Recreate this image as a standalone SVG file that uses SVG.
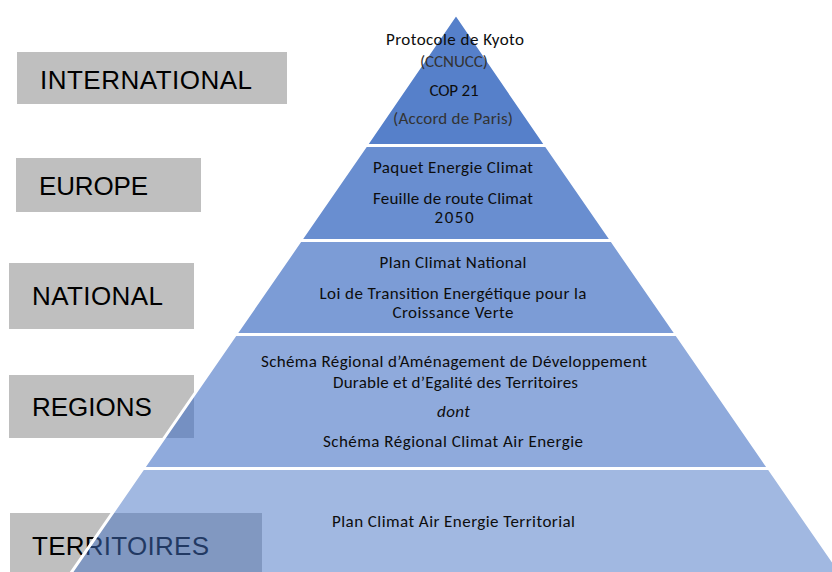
<svg xmlns="http://www.w3.org/2000/svg" width="832" height="572" viewBox="0 0 832 572">
<style>
.box{fill:#bfbfbf}
.lbl{font-family:"Liberation Sans",Arial,sans-serif;font-size:26px;fill:#000}
.lay{fill:#4472c4;stroke:#fff;stroke-width:3;stroke-linejoin:round}
.t{font-family:Carlito,Lato,"Open Sans",sans-serif;font-size:17px;fill:#0d0d0d;text-anchor:middle}
.lt{font-weight:300;fill:#333}
.it{font-style:italic}
</style>
<rect width="832" height="572" fill="#fff"/>
<g id="label-international"><rect class="box" x="17" y="52" width="270" height="52"/><text class="lbl" x="40" y="89" textLength="212">INTERNATIONAL</text></g>
<g id="label-europe"><rect class="box" x="16" y="158" width="185" height="54"/><text class="lbl" x="39" y="195" textLength="109">EUROPE</text></g>
<g id="label-national"><rect class="box" x="9" y="263" width="185" height="66"/><text class="lbl" x="32" y="305" textLength="131">NATIONAL</text></g>
<g id="label-regions"><rect class="box" x="9" y="375" width="185" height="63"/><text class="lbl" x="32" y="416">REGIONS</text></g>
<g id="label-territoires"><rect class="box" x="10" y="513" width="252" height="70"/><text class="lbl" x="32" y="555" textLength="177">TERRITOIRES</text></g>

<g id="layer-international">
<polygon class="lay" fill-opacity="0.9" points="456,14 546,145.5 366,145.5"/>
<text class="t" x="455" y="45" textLength="138">Protocole de Kyoto</text>
<text class="t lt" x="454" y="67" textLength="68">(CCNUCC)</text>
<text class="t" x="454" y="96" textLength="49">COP 21</text>
<text class="t lt" x="453" y="124" textLength="120">(Accord de Paris)</text>
</g>
<g id="layer-europe">
<polygon class="lay" fill-opacity="0.8" points="366,145.5 546,145.5 611.6,240.5 300.4,240.5"/>
<text class="t" x="453" y="173" textLength="160">Paquet Energie Climat</text>
<text class="t" x="453" y="204" textLength="160">Feuille de route Climat</text>
<text class="t" x="454" y="223" textLength="39">2050</text>
</g>
<g id="layer-national">
<polygon class="lay" fill-opacity="0.7" points="300.4,240.5 611.6,240.5 676.5,334.5 235.5,334.5"/>
<text class="t" x="453" y="268" textLength="147">Plan Climat National</text>
<text class="t" x="453" y="299" textLength="267">Loi de Transition Energétique pour la</text>
<text class="t" x="453" y="318" textLength="121">Croissance Verte</text>
</g>
<g id="layer-regions">
<polygon class="lay" fill-opacity="0.6" points="235.5,334.5 676.5,334.5 768.9,468.5 143.1,468.5"/>
<text class="t" x="454" y="367" textLength="386">Schéma Régional d’Aménagement de Développement</text>
<text class="t" x="455.5" y="388" textLength="245">Durable et d’Egalité des Territoires</text>
<text class="t it" x="453.5" y="417" textLength="33">dont</text>
<text class="t" x="453" y="447" textLength="260">Schéma Régional Climat Air Energie</text>
</g>
<g id="layer-territoires">
<polygon class="lay" fill-opacity="0.5" points="143.1,468.5 768.9,468.5 852.8,590 59.2,590"/>
<text class="t" x="453.5" y="527" textLength="243">Plan Climat Air Energie Territorial</text>
</g>
</svg>
